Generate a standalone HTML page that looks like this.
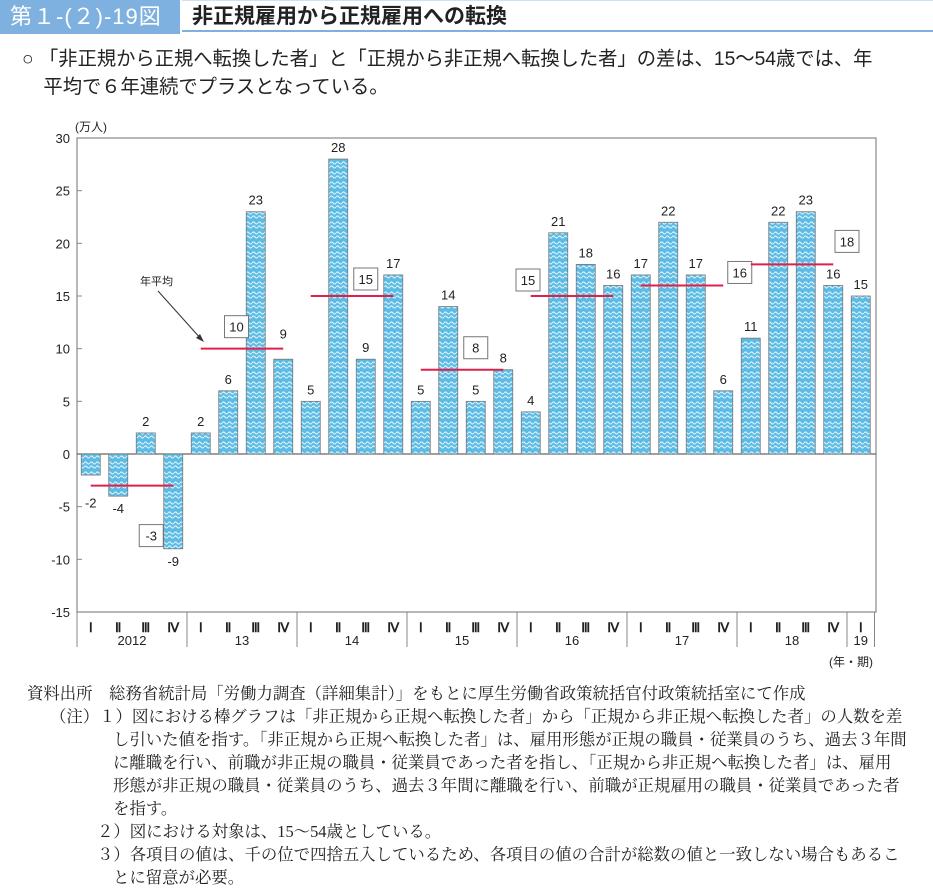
<!DOCTYPE html>
<html><head><meta charset="utf-8"><style>
body{margin:0;width:933px;height:896px;background:#fff;position:relative;overflow:hidden;font-family:"Liberation Sans","Noto Sans CJK JP",sans-serif;color:#222}
.abs{position:absolute;white-space:nowrap}
.fn{position:absolute;white-space:nowrap;font-family:"Liberation Serif","Noto Serif CJK JP",serif;font-size:16.4px;color:#222}
</style></head><body>
<div class="abs" style="left:0;top:0;width:180px;height:34px;background:#7eb0e0;color:#fff;font-size:22px;letter-spacing:1px;line-height:34px;padding-left:10px;box-sizing:border-box">第１-(２)-19図</div>
<div class="abs" style="left:182px;top:0;width:751px;height:32px;border-bottom:2px solid #7eb0e0;border-top:1px solid #cfe0f2;font-size:21px;line-height:32px;padding-left:10px;box-sizing:border-box;font-weight:bold">非正規雇用から正規雇用への転換</div>
<div class="abs" style="left:22px;top:46px;font-size:19.3px;line-height:28px">○ 「非正規から正規へ転換した者」と「正規から非正規へ転換した者」の差は、15～54歳では、年<br>&nbsp;&nbsp;&nbsp;&nbsp;平均で６年連続でプラスとなっている。</div>
<svg id="chart" width="933" height="896" style="position:absolute;left:0;top:0">
<defs><pattern id="pat" width="6" height="10" patternUnits="userSpaceOnUse"><rect width="6" height="10" fill="#5cbbe4"/><path d="M0 3 Q1.5 1 3 3 T6 3 M0 7 Q1.5 5 3 7 T6 7" stroke="#d8f0fb" stroke-width="1.2" fill="none"/></pattern></defs>
</svg>
<div class="fn" style="left:27px;top:680px">資料出所　総務省統計局「労働力調査（詳細集計）」をもとに厚生労働省政策統括官付政策統括室にて作成</div>
<div class="fn" style="left:50px;top:703px">（注）１）図における棒グラフは「非正規から正規へ転換した者」から「正規から非正規へ転換した者」の人数を差</div>
<div class="fn" style="left:113px;top:726px">し引いた値を指す。「非正規から正規へ転換した者」は、雇用形態が正規の職員・従業員のうち、過去３年間</div>
<div class="fn" style="left:113px;top:749px">に離職を行い、前職が非正規の職員・従業員であった者を指し、「正規から非正規へ転換した者」は、雇用</div>
<div class="fn" style="left:113px;top:772px">形態が非正規の職員・従業員のうち、過去３年間に離職を行い、前職が正規雇用の職員・従業員であった者</div>
<div class="fn" style="left:113px;top:795px">を指す。</div>
<div class="fn" style="left:97px;top:818px">２）図における対象は、15～54歳としている。</div>
<div class="fn" style="left:97px;top:841px">３）各項目の値は、千の位で四捨五入しているため、各項目の値の合計が総数の値と一致しない場合もあるこ</div>
<div class="fn" style="left:113px;top:864px">とに留意が必要。</div>
<script>
const values=[-2,-4,2,-9, 2,6,23,9, 5,28,9,17, 5,14,5,8, 4,21,18,16, 17,22,17,6, 11,22,23,16, 15];
const years=["2012","13","14","15","16","17","18","19"];
const quarters=["Ⅰ","Ⅱ","Ⅲ","Ⅳ"];
const averages=[-3,10,15,8,15,16,18];
const yTicks=[30,25,20,15,10,5,0,-5,-10,-15];
// layout: label box offset (bar index, px above/below avg line)
const boxPos=[[2.2,50],[1.3,-22],[2.0,-17],[2.0,-22],[-0.1,-16],[3.6,-13],[3.5,-23]];
const svg=document.getElementById('chart');const NS='http://www.w3.org/2000/svg';
const L=77,R=876,T=138,B=612,step=27.5,bw=19;
const y=v=>454-v*(B-454)/15;
const xc=i=>L+step*(i+0.5);
function mk(t,a,p){const e=document.createElementNS(NS,t);for(const k in a)e.setAttribute(k,a[k]);(p||svg).appendChild(e);return e;}
mk('rect',{x:L,y:T,width:R-L,height:B-T,fill:'none',stroke:'#888','stroke-width':1.2});
yTicks.forEach(v=>{const t=mk('text',{x:70,y:y(v)+5,'text-anchor':'end','font-size':13,fill:'#222'});t.textContent=v;

mk('line',{x1:L,x2:L+5,y1:y(v),y2:y(v),stroke:'#888'});});
const u=mk('text',{x:75,y:131,'font-size':12,fill:'#222'});u.textContent='(万人)';

mk('line',{x1:L,x2:R,y1:y(0),y2:y(0),stroke:'#666','stroke-width':1.2});
values.forEach((v,i)=>{const r=mk('rect',{x:xc(i)-bw/2,y:Math.min(y(v),y(0)),width:bw,height:Math.abs(y(v)-y(0)),fill:'url(#pat)',stroke:'#777','stroke-width':0.8});

const avg=averages[Math.floor(i/4)];
let ly=v>=0?y(v)-7:y(v)+17;
if(avg!==undefined&&Math.abs(ly-4-y(avg))<10)ly=v>=0?y(avg)-10:y(avg)+22;
const t=mk('text',{x:xc(i),y:ly,'text-anchor':'middle','font-size':13,fill:'#222'});t.textContent=v;

const q=mk('text',{x:xc(i),y:632,'text-anchor':'middle','font-size':13,'font-family':'Liberation Serif, serif','font-weight':'bold',fill:'#222'});q.textContent=quarters[i%4];
});
years.forEach((yr,g)=>{const s=g*4,e=Math.min(s+4,values.length);const x0=L+s*step,x1=L+e*step;
mk('line',{x1:x0,x2:x0,y1:B,y2:647,stroke:'#888'});
if(g==years.length-1)mk('line',{x1:x1,x2:x1,y1:B,y2:647,stroke:'#888'});
const t=mk('text',{x:(x0+x1)/2,y:645,'text-anchor':'middle','font-size':13,fill:'#222'});t.textContent=yr;
});
averages.forEach((a,g)=>{const l=mk('line',{x1:xc(g*4),x2:xc(g*4+3),y1:y(a),y2:y(a),stroke:'#e0204a','stroke-width':2});

const cx=xc(g*4)+boxPos[g][0]*step,cy=y(a)+boxPos[g][1];
mk('rect',{x:cx-12,y:cy-11,width:24,height:22,fill:'#fff',stroke:'#777'});
const t=mk('text',{x:cx,y:cy+5,'text-anchor':'middle','font-size':13,fill:'#222'});t.textContent=a;
});
const an=mk('text',{x:140,y:285,'font-size':11,fill:'#222'});an.textContent='年平均';

mk('line',{x1:158,x2:202,y1:291,y2:340,stroke:'#333'});
mk('polygon',{points:'204,342 196,338 200,334',fill:'#333'});
const ul=mk('text',{x:873,y:666,'text-anchor':'end','font-size':12,fill:'#222'});ul.textContent='(年・期)';

</script>
</body></html>
